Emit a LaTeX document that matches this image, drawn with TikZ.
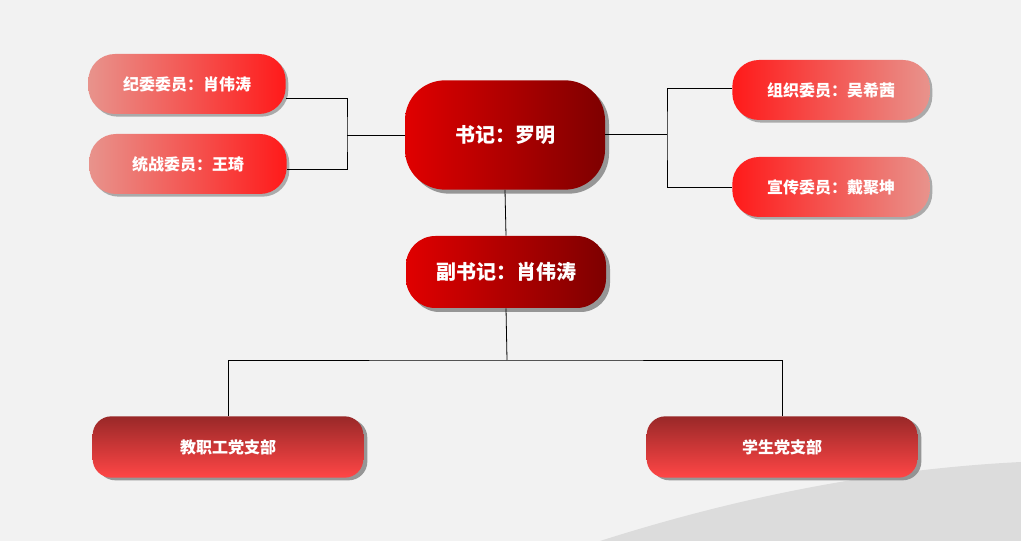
\documentclass[tikz,border=0pt]{standalone}
\usepackage{fontspec}
\setmainfont{Noto Sans CJK SC}
\usepackage{xcolor}
\definecolor{orgBack}{HTML}{F2F2F2}
\definecolor{orgSwoosh}{HTML}{DCDCDC}
\definecolor{orgRed}{HTML}{FF1A1A}
\definecolor{orgPink}{HTML}{E8938C}
\definecolor{orgDeep}{HTML}{E00000}
\definecolor{orgDark}{HTML}{7E0000}
\definecolor{orgBrick}{HTML}{992828}
\definecolor{orgCoral}{HTML}{FF4646}
\usetikzlibrary{positioning,shadows,calc}
\tikzset{
    member/.style={
        rectangle,
        rounded corners=20pt,
        minimum width=148pt,
        minimum height=45pt,
        align=center,
        text=white,
        font=\fontsize{12}{14}\selectfont\bfseries,
        drop shadow={shadow xshift=2pt, shadow yshift=-2pt, fill=gray!80, opacity=0.8}
    },
    memberL/.style={member, left color=orgPink, right color=orgRed},
    memberR/.style={member, left color=orgRed, right color=orgPink},
    chief/.style={
        rectangle,
        rounded corners=30pt,
        minimum width=150pt,
        align=center,
        text=white,
        left color=orgDeep,
        right color=orgDark,
        font=\fontsize{15}{18}\selectfont\bfseries,
        drop shadow={shadow xshift=3pt, shadow yshift=-3pt, fill=gray!90, opacity=0.9}
    },
    branch/.style={
        rectangle,
        rounded corners=14pt,
        minimum width=203pt,
        minimum height=46pt,
        align=center,
        text=white,
        top color=orgBrick,
        bottom color=orgCoral,
        font=\fontsize{12}{14}\selectfont\bfseries,
        drop shadow={shadow xshift=3pt, shadow yshift=-2pt, fill=gray!90, opacity=0.9}
    },
    link/.style={black, line width=0.6pt}
}
\begin{document}
\begin{tikzpicture}[x=0.75pt,y=-0.75pt]
    % background
    \fill[orgBack] (0,0) rectangle (1021,541);
    \useasboundingbox (0,0) rectangle (1021,541);
    \fill[orgSwoosh] (600,541) .. controls (760,490) and (900,468) .. (1021,462) -- (1021,541) -- cycle;

    % nodes
    \node[chief, minimum height=82pt] (sec) at (505,135) {书记：罗明};
    \node[chief, minimum height=54pt, rounded corners=22pt] (vice) at (506,272) {副书记：肖伟涛};
    \node[memberL] (jw) at (187,84) {纪委委员：肖伟涛};
    \node[memberL] (tz) at (188,164) {统战委员：王琦};
    \node[memberR] (zz) at (831,90) {组织委员：吴希茜};
    \node[memberR] (xc) at (831,187) {宣传委员：戴聚坤};
    \node[branch] (jz) at (228,447) {教职工党支部};
    \node[branch] (xs) at (782,447) {学生党支部};

    % connectors
    \coordinate (jl) at (347,135);
    \coordinate (jr) at (667,134);
    \coordinate (jd) at (507,360);
    \draw[link] ($(jw.east)+(0,14)$) -| (jl) |- ($(tz.east)+(0,5)$);
    \draw[link] (jl) -- (sec.west |- jl);
    \draw[link] (sec.east |- jr) -- (jr);
    \draw[link] (zz.west |- 0,88) -| (jr) |- (xc.west);
    \draw[link] (sec.south) -- (vice.north);
    \draw[link] (vice.south) -- (jd);
    \draw[link] (jz.north) |- (jd) -| (xs.north);
\end{tikzpicture}
\end{document}
